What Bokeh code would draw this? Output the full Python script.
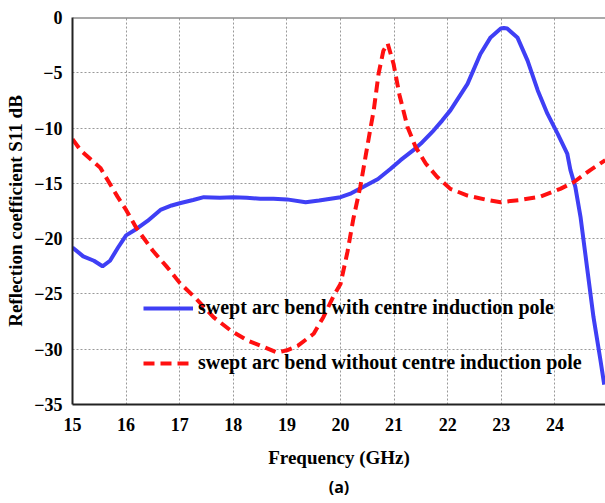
from bokeh.plotting import figure
from bokeh.models import (Legend, LegendItem, Span, Title, FixedTicker, Range1d)
from bokeh.embed import file_html
from bokeh.resources import INLINE

# Data
freq_with = [15.0, 15.2, 15.4, 15.56, 15.7, 15.85, 16.0, 16.2, 16.4, 16.64, 16.85, 17.0,
             17.25, 17.45, 17.75, 18.0, 18.25, 18.5, 18.75, 19.0, 19.35, 19.6, 20.0, 20.2,
             20.43, 20.7, 20.93, 21.12, 21.36, 21.5, 21.74, 21.9, 22.05, 22.37, 22.61, 22.8,
             22.99, 23.05, 23.11, 23.3, 23.49, 23.68, 23.86, 24.05, 24.23, 24.29, 24.38,
             24.48, 24.6, 24.72, 24.85, 24.92]
s11_with = [-20.8, -21.6, -22.0, -22.5, -22.0, -20.8, -19.7, -19.1, -18.4, -17.4, -17.0, -16.8,
            -16.5, -16.25, -16.3, -16.25, -16.3, -16.4, -16.4, -16.45, -16.7, -16.55, -16.25, -15.9,
            -15.3, -14.6, -13.7, -12.9, -12.0, -11.4, -10.2, -9.3, -8.4, -6.0, -3.3, -1.8,
            -1.0, -0.95, -1.0, -1.8, -3.9, -6.6, -8.7, -10.5, -12.3, -13.8, -15.3,
            -18.1, -22.6, -27.1, -31.0, -33.2]

freq_without = [15.0, 15.15, 15.52, 15.84, 16.0, 16.2, 16.5, 16.77, 17.0, 17.3, 17.63, 17.95,
                18.26, 18.57, 18.82, 19.0, 19.2, 19.5, 19.68, 19.87, 20.0, 20.13, 20.24, 20.37,
                20.47, 20.56, 20.62, 20.71, 20.8, 20.88, 20.99, 21.1, 21.25, 21.4, 21.59, 21.8,
                22.05, 22.37, 22.74, 22.99, 23.36, 23.73, 24.1, 24.35, 24.66, 24.94]
s11_without = [-11.0, -12.0, -13.6, -16.2, -17.4, -19.1, -21.1, -22.6, -24.0, -25.4, -27.1, -28.3,
               -29.2, -29.8, -30.3, -30.1, -29.7, -28.6, -27.1, -25.2, -24.1, -21.2, -18.2, -15.3,
               -12.5, -10.0, -8.4, -5.1, -3.0, -2.35, -4.2, -7.0, -9.9, -11.7, -13.2, -14.4,
               -15.5, -16.1, -16.5, -16.7, -16.5, -16.2, -15.5, -14.9, -13.8, -12.9]

x_ticks = [15, 16, 17, 18, 19, 20, 21, 22, 23, 24]
y_ticks = [0, -5, -10, -15, -20, -25, -30, -35]

label_with = "swept arc bend with centre induction pole"
label_without = "swept arc bend without centre induction pole"

SERIF = "Liberation Serif"

p = figure(width=605, height=503, output_backend="svg", toolbar_location=None,
           x_range=Range1d(15, 24.944), y_range=Range1d(-35, 0),
           min_border_left=72, min_border_right=0, min_border_top=17, min_border_bottom=99)
p.outline_line_color = None
p.background_fill_color = "white"

# axes
p.xaxis.ticker = FixedTicker(ticks=x_ticks)
p.yaxis.ticker = FixedTicker(ticks=y_ticks)
for ax in (p.xaxis[0], p.yaxis[0]):
    ax.major_tick_line_color = None
    ax.minor_tick_line_color = None
    ax.major_tick_out = 0
    ax.major_tick_in = 0
    ax.axis_line_color = "#222222"
    ax.axis_line_width = 2
    ax.major_label_text_font = SERIF
    ax.major_label_text_font_style = "bold"
    ax.major_label_text_font_size = "18px"
    ax.major_label_text_color = "black"
    ax.axis_label_text_font = SERIF
    ax.axis_label_text_font_style = "bold"
    ax.axis_label_text_font_size = "19px"
    ax.axis_label_text_color = "black"

p.xaxis.axis_label = "Frequency (GHz)"
p.yaxis.axis_label = "Reflection coefficient S11 dB"
p.xaxis.major_label_standoff = 13
p.xaxis.axis_label_standoff = 13
p.yaxis.major_label_standoff = 10
p.yaxis.axis_label_standoff = 5

# grid
p.xgrid.ticker = FixedTicker(ticks=x_ticks)
p.ygrid.ticker = FixedTicker(ticks=y_ticks)
for g in (p.xgrid[0], p.ygrid[0]):
    g.grid_line_color = "#999999"
    g.grid_line_dash = "2 2"
    g.grid_line_width = 1

# top border
p.add_layout(Span(location=0, dimension="width", line_color="#555555", line_width=2))

r1 = p.line(freq_with, s11_with, line_color="#3f3ff5", line_width=4)
r2 = p.line(freq_without, s11_without, line_color="#ff1010", line_width=4, line_dash="11 6")

legend = Legend(items=[LegendItem(label=label_with, renderers=[r1]),
                       LegendItem(label=label_without, renderers=[r2])],
                location=(71, 30), orientation="vertical",
                background_fill_alpha=0, border_line_color=None,
                padding=0, margin=0, spacing=32, glyph_width=50, glyph_height=20,
                label_height=20, label_standoff=5,
                label_text_font=SERIF, label_text_font_style="bold",
                label_text_font_size="20px", label_text_color="black")
p.add_layout(legend, "center")

p.add_layout(Title(text="(a)", align="center", text_font="Open Sans",
                   text_font_style="bold", text_font_size="16px", text_color="black",
                   standoff=6), "below")

open("out.html", "w").write(file_html(p, INLINE))
